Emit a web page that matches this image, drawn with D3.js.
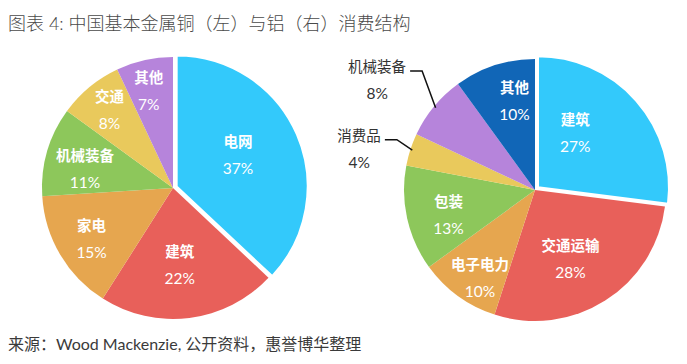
<!DOCTYPE html>
<html>
<head>
<meta charset="utf-8">
<script src="https://cdn.jsdelivr.net/npm/d3@7"></script>
<style>
  body { margin: 0; background: #fff; }
  svg { display: block; }
  .title { font-family: Lato, "Noto Sans CJK SC", sans-serif; font-size: 18px; fill: #4a4a4a; font-weight: 300; }
  .source { font-family: Lato, "Noto Sans CJK SC", sans-serif; font-size: 16px; fill: #3a3a3a; }
  .lbl-name { font-family: "Noto Sans CJK SC", sans-serif; font-size: 14.5px; font-weight: 700; }
  .lbl-pct { font-family: Lato, sans-serif; font-size: 15.5px; }
</style>
</head>
<body>
<svg id="chart"></svg>
<script>
// copper (left)
const copperCats = ['电网', '建筑', '家电', '机械装备', '交通', '其他'];
const copperVals = [37, 22, 15, 11, 8, 7];
// aluminium (right)
const aluCats = ['建筑', '交通运输', '电子电力', '包装', '消费品', '机械装备', '其他'];
const aluVals = [27, 28, 10, 13, 4, 8, 10];

const colorMap = {
  '电网': '#33c9fb', '建筑': '#e8605a', '家电': '#e6a64f', '机械装备': '#8dc75b',
  '交通': '#e9c95c', '其他': '#b684db'
};
const aluColorMap = {
  '建筑': '#33c9fb', '交通运输': '#e8605a', '电子电力': '#e6a64f', '包装': '#8dc75b',
  '消费品': '#e9c95c', '机械装备': '#b684db', '其他': '#1166b7'
};

// label placement (radius px, angle deg) - tuned to match excel "best fit"
const copperLabelPos = [[73, 63], [77, 175], [96, 238], [90, 282], [101, 321], [100, 346]];
const aluLabelPos = [[70, 35], [78, 153], [104, 212], [90, 254], null, null, [91, 347]];
// outside labels with leader lines: elbow (r, angle) and horizontal tail length
const aluOutside = { 4: { elbow: [147, 290], len: 12 }, 5: { elbow: [164, 316.5], len: 12 } };

const W = 687, H = 364;
const svg = d3.select('#chart').attr('width', W).attr('height', H);

svg.append('text').attr('class', 'title')
  .attr('x', 8).attr('y', 30)
  .text('图表 4: 中国基本金属铜（左）与铝（右）消费结构');

svg.append('text').attr('class', 'source')
  .attr('x', 8).attr('y', 350)
  .text('来源：Wood Mackenzie, 公开资料，惠誉博华整理');

const R = 131;
const explode = 4;

function polar(r, deg) {
  const a = deg * Math.PI / 180;
  return [r * Math.sin(a), -r * Math.cos(a)];
}

function drawPie(cx, cy, cats, vals, colors, labelPos, outside) {
  const pie = d3.pie().sort(null).value(d => d.v);
  const arcs = pie(cats.map((c, i) => ({ c: c, v: vals[i] })));
  const arc = d3.arc().innerRadius(0).outerRadius(R);
  const g = svg.append('g').attr('transform', `translate(${cx},${cy})`);

  g.selectAll('path.slice')
    .data(arcs)
    .join('path')
    .attr('class', 'slice')
    .attr('d', arc)
    .attr('fill', d => colors[d.data.c])
    .attr('stroke', (d, i) => i === 0 ? '#fff' : 'none')
    .attr('stroke-width', 2)
    .attr('transform', (d, i) => {
      if (i !== 0) return null;
      const mid = (d.startAngle + d.endAngle) / 2;
      return `translate(${explode * Math.sin(mid)},${-explode * Math.cos(mid)})`;
    });
  // bring the exploded slice to front
  g.selectAll('path.slice').filter((d, i) => i === 0).raise();

  arcs.forEach((d, i) => {
    const pct = d.data.v + '%';
    if (labelPos[i]) {
      const [x, y] = polar(labelPos[i][0], labelPos[i][1]);
      const t = g.append('g').attr('transform', `translate(${x},${y})`);
      t.append('text').attr('class', 'lbl-name').attr('text-anchor', 'middle')
        .attr('y', -8).attr('fill', '#fff').text(d.data.c);
      t.append('text').attr('class', 'lbl-pct').attr('text-anchor', 'middle')
        .attr('y', 19).attr('fill', '#fff').text(pct);
    } else if (outside && outside[i]) {
      const o = outside[i];
      const midDeg = ((d.startAngle + d.endAngle) / 2) * 180 / Math.PI;
      const p0 = polar(R - 2, midDeg);
      const p1 = polar(o.elbow[0], o.elbow[1]);
      const p2 = [p1[0] - o.len, p1[1]];
      g.append('polyline')
        .attr('points', [p0, p1, p2].map(p => p.join(',')).join(' '))
        .attr('fill', 'none').attr('stroke', '#111').attr('stroke-width', 1.5);
      const t = g.append('g').attr('transform', `translate(${p2[0]},${p2[1]})`);
      t.append('text').attr('class', 'lbl-name').attr('text-anchor', 'end')
        .attr('x', -4).attr('y', 1).attr('fill', '#333').style('font-weight', 400).text(d.data.c);
      t.append('text').attr('class', 'lbl-pct').attr('text-anchor', 'middle')
        .attr('x', -4 - d.data.c.length * 7.2).attr('y', 28).attr('fill', '#333').text(pct);
    }
  });
}

drawPie(173, 188, copperCats, copperVals, colorMap, copperLabelPos, null);
drawPie(535, 190, aluCats, aluVals, aluColorMap, aluLabelPos, aluOutside);
</script>
</body>
</html>
